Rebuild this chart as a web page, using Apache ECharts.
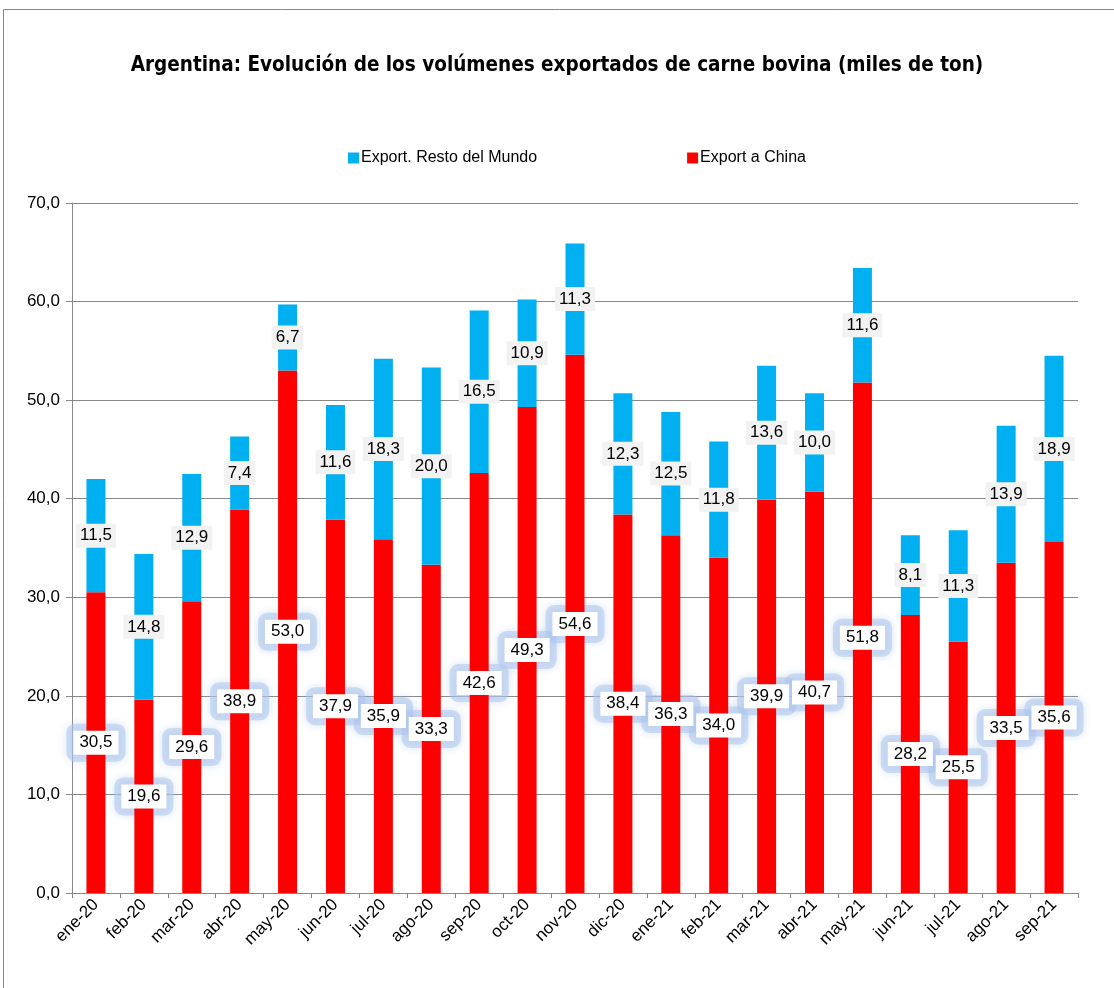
<!DOCTYPE html>
<html>
<head>
<meta charset="utf-8">
<script src="https://cdn.jsdelivr.net/npm/echarts@6/dist/echarts.min.js"></script>
<style>
  html, body { margin: 0; padding: 0; background: #fff; }
  #main { width: 1114px; height: 988px; }
</style>
</head>
<body>
<div id="main"></div>
<script>
const months = ["ene-20", "feb-20", "mar-20", "abr-20", "may-20", "jun-20", "jul-20", "ago-20", "sep-20", "oct-20", "nov-20",
  "dic-20", "ene-21", "feb-21", "mar-21", "abr-21", "may-21", "jun-21", "jul-21", "ago-21", "sep-21"];
const chinaValues = [30.5, 19.6, 29.6, 38.9, 53.0, 37.9, 35.9, 33.3, 42.6, 49.3, 54.6,
  38.4, 36.3, 34.0, 39.9, 40.7, 51.8, 28.2, 25.5, 33.5, 35.6];
const restValues = [11.5, 14.8, 12.9, 7.4, 6.7, 11.6, 18.3, 20.0, 16.5, 10.9, 11.3,
  12.3, 12.5, 11.8, 13.6, 10.0, 11.6, 8.1, 11.3, 13.9, 18.9];

const fmt = (v) => v.toFixed(1).replace(".", ",");
const font = "'Liberation Sans', Arial, sans-serif";

let chart = echarts.init(document.getElementById("main"));
let option = {
  animation: false,
  backgroundColor: "#fff",
  graphic: [
    {
      type: "rect",
      shape: { x: 3.5, y: 9.5, width: 1120, height: 990 },
      style: { fill: "none", stroke: "#888", lineWidth: 1 },
    },
  ],
  title: {
    text: "Argentina: Evolución de los volúmenes exportados de carne bovina (miles de ton)",
    left: "center",
    top: 50,
    textStyle: {
      fontFamily: "'DejaVu Sans Condensed', 'Liberation Sans', Arial, sans-serif",
      fontWeight: "bold",
      fontSize: 20.5,
      color: "#000",
    },
  },
  legend: {
    top: 145,
    left: 343,
    itemGap: 150,
    itemWidth: 11,
    itemHeight: 11,
    icon: "rect",
    textStyle: { fontFamily: font, fontSize: 16, color: "#000", padding: [0, 0, 0, -3] },
    data: ["Export. Resto del Mundo", "Export a China"],
  },
  grid: {
    left: 72,
    right: 36,
    top: 203,
    bottom: 95,
  },
  xAxis: {
    type: "category",
    data: months,
    axisLine: { lineStyle: { color: "#888" } },
    axisTick: { show: true, alignWithLabel: false, length: 5, lineStyle: { color: "#888" } },
    axisLabel: {
      interval: 0,
      rotate: 45,
      fontFamily: font,
      fontSize: 17,
      color: "#000",
      margin: 9,
    },
  },
  yAxis: {
    type: "value",
    min: 0,
    max: 70,
    interval: 10,
    axisLine: { show: true, lineStyle: { color: "#888" } },
    axisTick: { show: true, length: 6, lineStyle: { color: "#888" } },
    splitLine: { lineStyle: { color: "#888" } },
    axisLabel: {
      formatter: (v) => fmt(v),
      fontFamily: font,
      fontSize: 17,
      color: "#000",
      margin: 12,
    },
  },
  series: [
    {
      name: "Export a China",
      type: "bar",
      stack: "total",
      barWidth: 19,
      itemStyle: { color: "#ff0000" },
      data: chinaValues,
      z: 4,
      label: {
        show: true,
        position: "inside",
        formatter: (p) => fmt(p.value),
        fontFamily: font,
        fontSize: 17,
        color: "#000",
        backgroundColor: "#fff",
        padding: [4, 6, 3, 6],
      },
    },
    {
      name: "Export. Resto del Mundo",
      type: "bar",
      stack: "total",
      barWidth: 19,
      itemStyle: { color: "#00b0f0" },
      data: restValues,
      z: 4,
      label: {
        show: true,
        position: "inside",
        formatter: (p) => fmt(p.value),
        fontFamily: font,
        fontSize: 17,
        color: "#000",
        backgroundColor: "#f2f2f2",
        padding: [4, 4, 3, 4],
      },
    },
    {
      // glow behind the China labels (same values, invisible bar)
      name: "glow",
      type: "bar",
      barWidth: 19,
      barGap: "-100%",
      itemStyle: { color: "rgba(0,0,0,0)" },
      data: chinaValues,
      z: 3,
      silent: true,
      label: {
        show: true,
        position: "inside",
        formatter: (p) => fmt(p.value),
        fontFamily: font,
        fontSize: 17,
        color: "rgba(0,0,0,0)",
        backgroundColor: "rgba(170,195,235,0.5)",
        borderRadius: 9,
        padding: [11, 13, 10, 13],
        shadowColor: "rgba(170,195,235,0.9)",
        shadowBlur: 9,
      },
    },
  ],
};
chart.setOption(option);
</script>
</body>
</html>
